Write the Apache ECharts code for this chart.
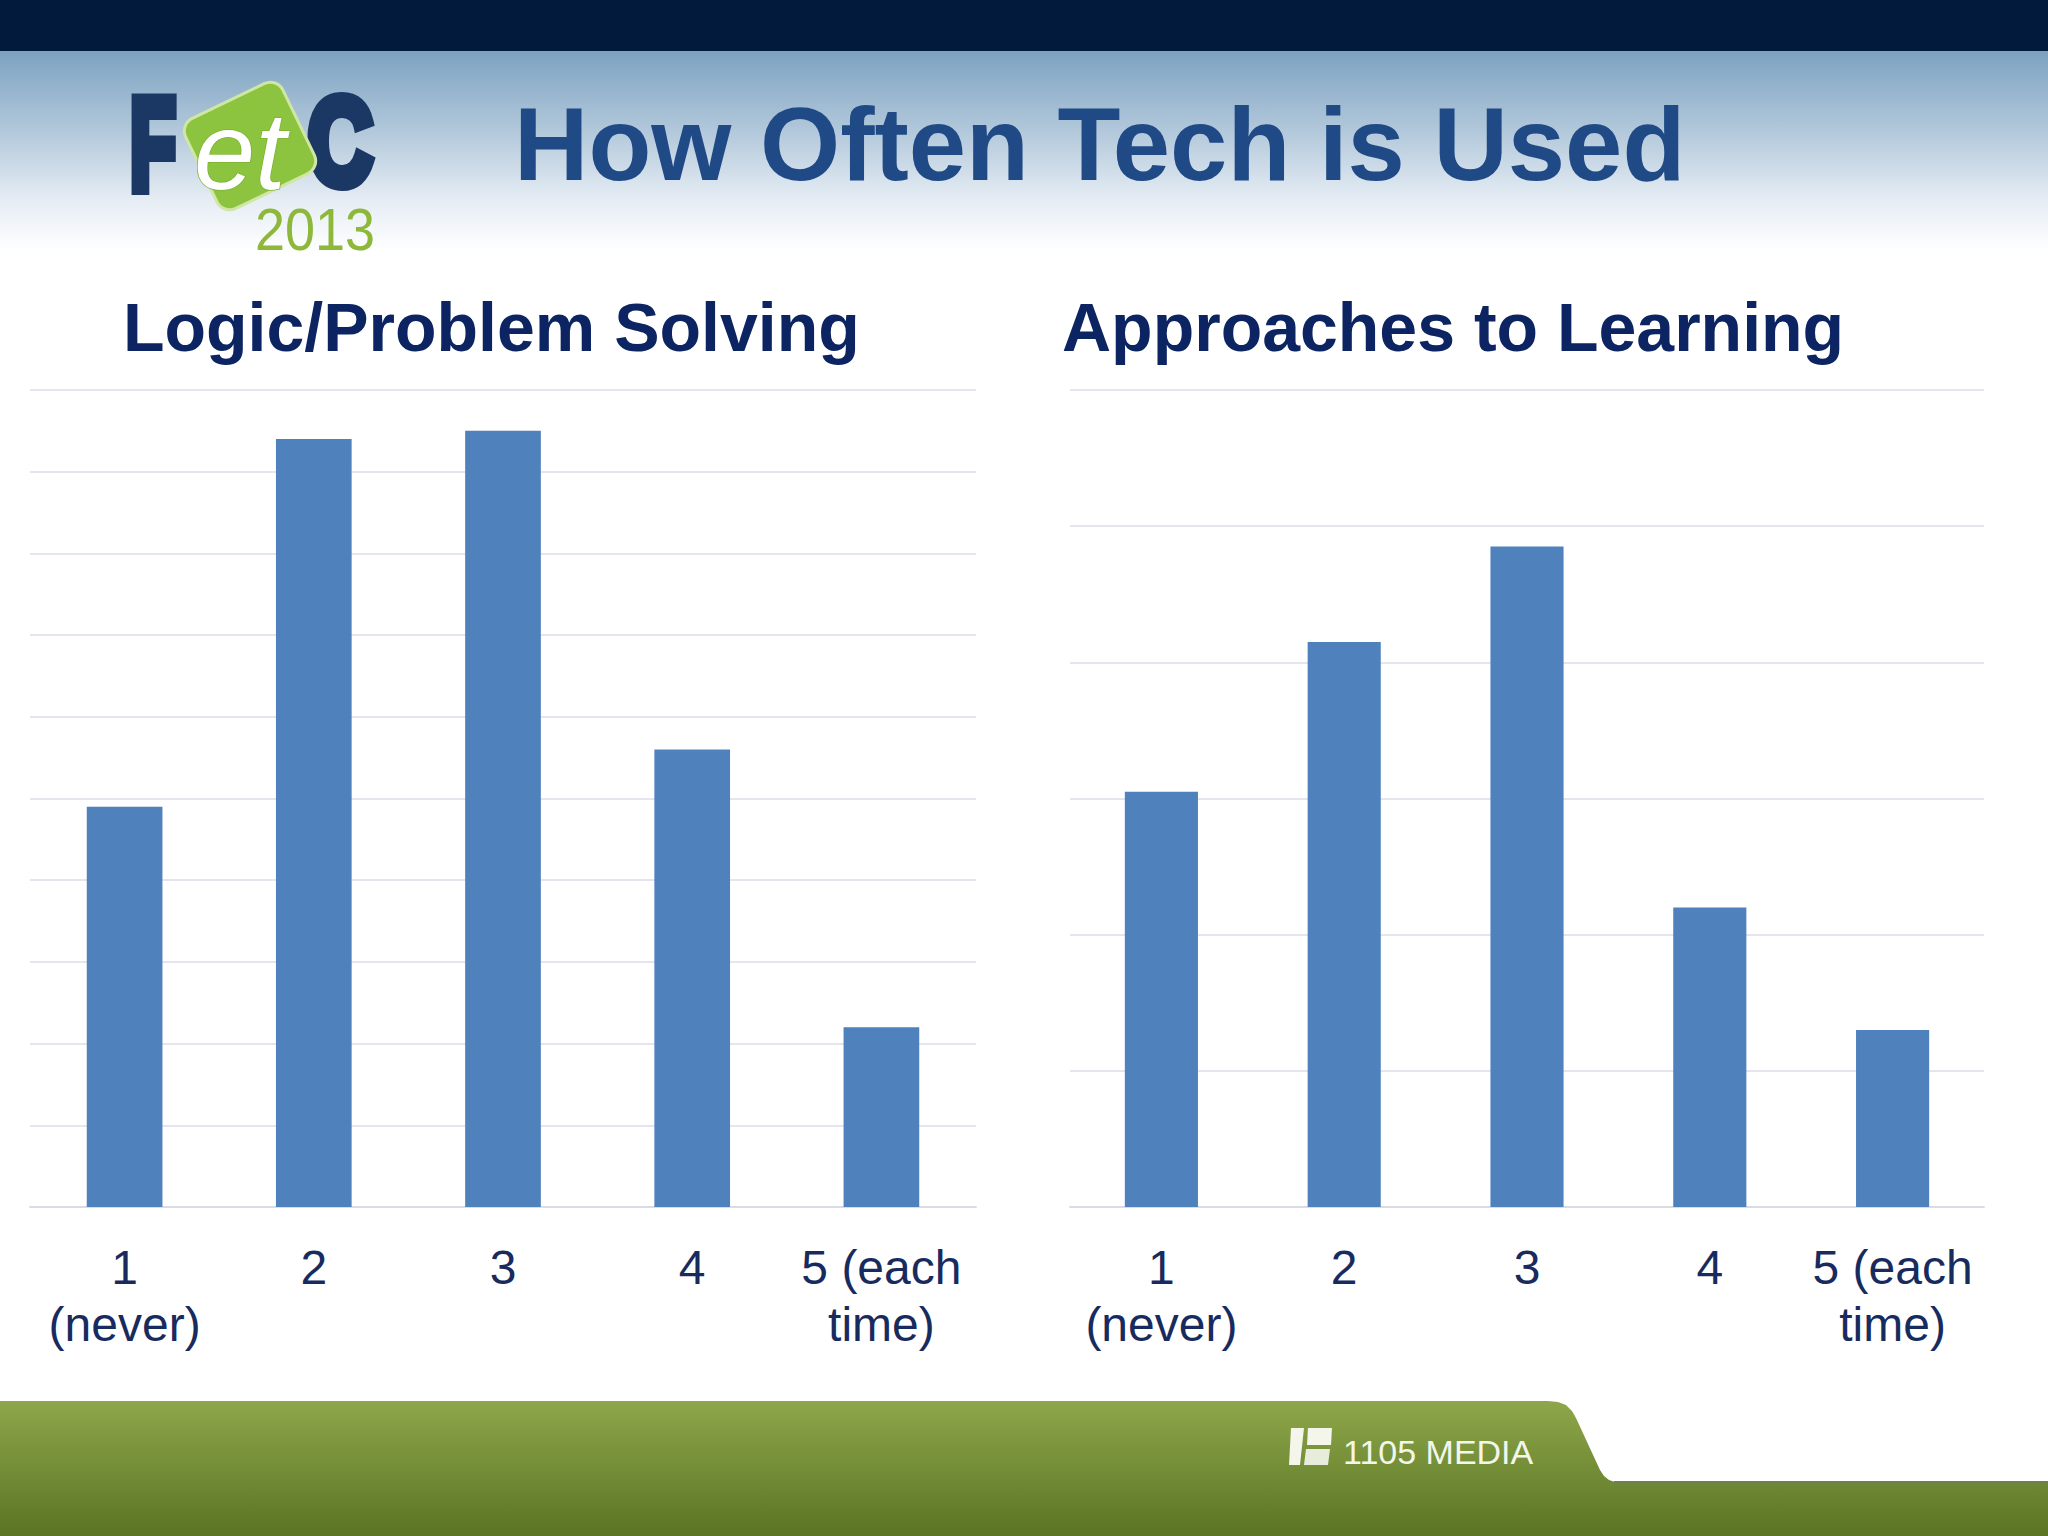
<!DOCTYPE html>
<html>
<head>
<meta charset="utf-8">
<script src="https://cdn.jsdelivr.net/npm/echarts@6/dist/echarts.min.js"></script>
<style>
html,body{margin:0;padding:0;background:#fff;}
#chart{width:2048px;height:1536px;}
</style>
</head>
<body>
<div id="chart"></div>
<script>
// ---- data ----
const mainTitle = 'How Often Tech is Used';
const leftTitle = 'Logic/Problem Solving';
const rightTitle = 'Approaches to Learning';
const categories = ['1\n(never)', '2', '3', '4', '5 (each\ntime)'];
const logicValues = [4.9, 9.4, 9.5, 5.6, 2.2];
const learningValues = [3.05, 4.15, 4.85, 2.2, 1.3];
const logicAxisMax = 10;
const learningAxisMax = 6;
const footerBrand = '1105 MEDIA';
const logoYear = '2013';

const FONT = 'Liberation Sans, Arial, sans-serif';
const chart = echarts.init(document.getElementById('chart'), null, {renderer: 'svg', width: 2048, height: 1536});

function xAxisFor(idx) {
  return {
    type: 'category', gridIndex: idx, data: categories,
    axisLine: {lineStyle: {color: '#D9DCE4', width: 2}},
    axisTick: {length: 16, lineStyle: {color: '#D9DCE4', width: 2}},
    axisLabel: {interval: 0, fontSize: 48, lineHeight: 57, color: '#182B5E', margin: 32, fontFamily: FONT}
  };
}
function yAxisFor(idx, max) {
  return {
    type: 'value', gridIndex: idx, min: 0, max: max, interval: 1,
    axisLabel: {show: false}, axisLine: {show: false}, axisTick: {show: false},
    splitLine: {lineStyle: {color: '#E3E6EE', width: 2}}
  };
}

const footerPoints = [[0, 1401], [1548, 1401], [1558, 1402], [1566, 1405], [1572, 1411], [1576, 1418],
  [1600, 1470], [1604, 1476], [1609, 1480], [1615, 1482], [1622, 1482], [2048, 1482], [2048, 1536], [0, 1536]];

function txt(x, y, text, size, weight, color, extra) {
  return Object.assign({type: 'text', z: -6, x: x, y: y,
    style: Object.assign({text: text, fontSize: size, fontWeight: weight, fontFamily: FONT, fill: color,
      textAlign: 'left', textVerticalAlign: 'middle'}, (extra && extra.style) || {})},
    extra && extra.el || {});
}

const option = {
  backgroundColor: '#ffffff',
  animation: false,
  title: [
    {text: mainTitle, left: 514, top: 93, padding: 0,
     textStyle: {fontSize: 103, fontWeight: 'bold', color: '#1F4A85', fontFamily: FONT}},
    {text: leftTitle, left: 123, top: 293, padding: 0,
     textStyle: {fontSize: 68, fontWeight: 'bold', color: '#0C2462', fontFamily: FONT}},
    {text: rightTitle, left: 1062, top: 293, padding: 0,
     textStyle: {fontSize: 68, fontWeight: 'bold', color: '#0C2462', fontFamily: FONT}}
  ],
  grid: [
    {left: 30, right: 1072, top: 390, bottom: 329},
    {left: 1070, right: 64, top: 390, bottom: 329}
  ],
  xAxis: [xAxisFor(0), xAxisFor(1)],
  yAxis: [yAxisFor(0, logicAxisMax), yAxisFor(1, learningAxisMax)],
  series: [
    {type: 'bar', xAxisIndex: 0, yAxisIndex: 0, data: logicValues, barCategoryGap: '60%',
     itemStyle: {color: '#4F81BD'}},
    {type: 'bar', xAxisIndex: 1, yAxisIndex: 1, data: learningValues, barCategoryGap: '60%',
     itemStyle: {color: '#4F81BD'}}
  ],
  graphic: {
    elements: [
      {type: 'rect', z: -10, shape: {x: 0, y: 51, width: 2048, height: 200},
       style: {fill: new echarts.graphic.LinearGradient(0, 0, 0, 1, [
         {offset: 0, color: '#7CA2C1'}, {offset: 0.4, color: '#B2C8DB'},
         {offset: 0.75, color: '#E6EDF4'}, {offset: 1, color: '#FFFFFF'}])}},
      {type: 'rect', z: -9, shape: {x: 0, y: 0, width: 2048, height: 51}, style: {fill: '#021A3B'}},
      {type: 'polygon', z: -9, shape: {points: footerPoints},
       style: {fill: new echarts.graphic.LinearGradient(0, 0, 0, 1, [
         {offset: 0, color: '#8EA74A'}, {offset: 1, color: '#5A7424'}])}},
      {type: 'line', z: -8, shape: {x1: 1614, y1: 1482, x2: 2048, y2: 1482},
       style: {stroke: '#6E7E4C', lineWidth: 2}},
      // 1105 media logo
      {type: 'polygon', z: -7, shape: {points: [[1291, 1428], [1304, 1428], [1300, 1465], [1289, 1465]]}, style: {fill: '#F4F6EC'}},
      {type: 'polygon', z: -7, shape: {points: [[1308, 1428], [1332, 1428], [1331, 1445], [1307, 1445]]}, style: {fill: '#F4F6EC'}},
      {type: 'polygon', z: -7, shape: {points: [[1306, 1449], [1330, 1449], [1328, 1465], [1304, 1465]]}, style: {fill: '#E8ECDA'}},
      txt(1343, 1452, footerBrand, 34, 'normal', '#F3F6EA'),
      // FETC logo
      txt(130, 144, 'F', 130, 'bold', '#1B3865', {el: {scaleX: 0.578}, style: {stroke: '#1B3865', lineWidth: 12}}),
      txt(308, 142, 'C', 122, 'bold', '#1B3865', {el: {scaleX: 0.73}, style: {stroke: '#1B3865', lineWidth: 12}}),
      {type: 'rect', z: -5, x: 250, y: 146, rotation: 0.45,
       shape: {x: -54, y: -50, width: 108, height: 100, r: 14},
       style: {fill: '#8CC43F', stroke: '#CFE6A4', lineWidth: 3}},
      Object.assign(txt(194, 150, 'et', 110, 'normal', '#FFFFFF',
        {style: {fontStyle: 'italic', stroke: '#7BB232', lineWidth: 1.5}}), {z: -4}),
      txt(255, 229, logoYear, 60, 'normal', '#8DB83A', {el: {scaleX: 0.9}})
    ]
  }
};
chart.setOption(option);
</script>
</body>
</html>
